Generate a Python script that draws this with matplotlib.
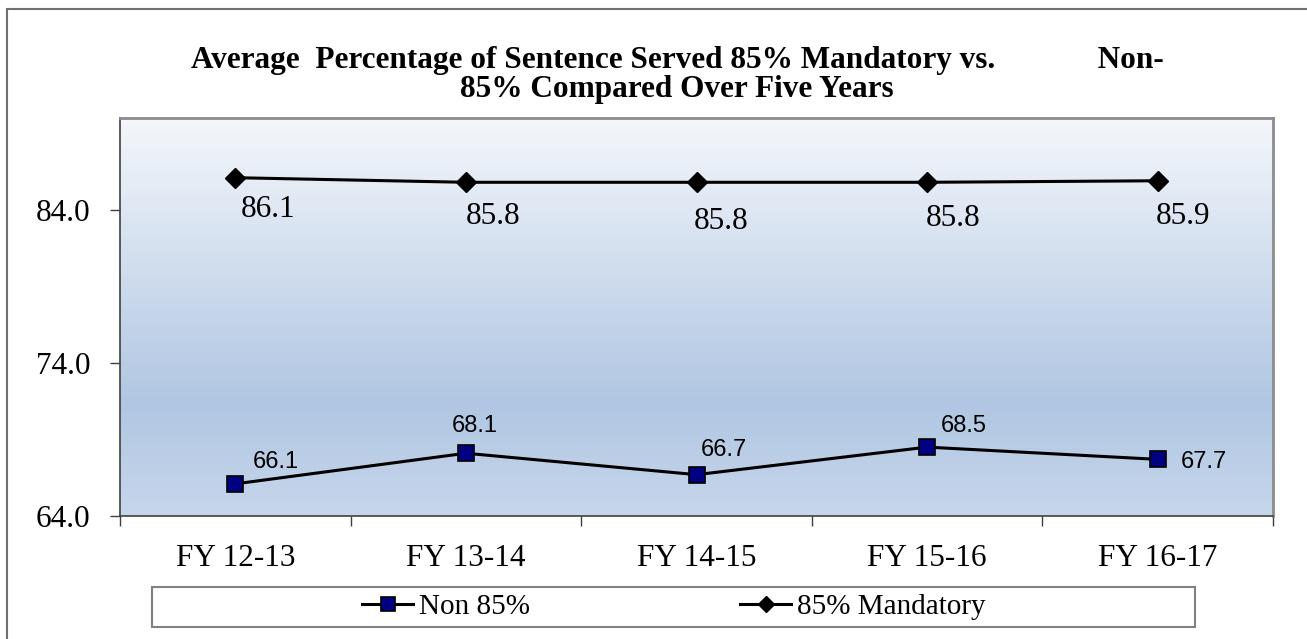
import numpy as np
import matplotlib
matplotlib.use("Agg")
import matplotlib.pyplot as plt
from matplotlib.colors import LinearSegmentedColormap
from matplotlib.patches import Rectangle

# data
years = ['FY 12-13', 'FY 13-14', 'FY 14-15', 'FY 15-16', 'FY 16-17']
non85 = [66.1, 68.1, 66.7, 68.5, 67.7]
mand85 = [86.1, 85.8, 85.8, 85.8, 85.9]
yticks = [64.0, 74.0, 84.0]

# label offsets in pixels (dx, dy) relative to marker, dy positive = up
mand_off = [(5, -39), (0, -42), (-3, -47), (-1, -44), (-2, -43)]
non_off = [(17, 16), (-14, 21), (4, 19), (14, 15), (23, -9)]

W, H = 1307, 639
serif = 'Liberation Serif'
sans = 'Liberation Sans'
fs = 22.5

fig = plt.figure(figsize=(W / 100, H / 100), dpi=100)
ax = fig.add_axes([120 / W, 1 - 516 / H, (1273 - 120) / W, (516 - 118) / H])

x = np.arange(len(years))

# background gradient of the plot area
cmap = LinearSegmentedColormap.from_list('bg', [(0.0, '#F4F7FB'), (0.72, '#B0C6E2'), (1.0, '#C7D7EB')])
grad = np.linspace(0, 1, 256).reshape(-1, 1)
ax.imshow(grad, cmap=cmap, aspect='auto', extent=[-0.5, 4.5, 64, 90], zorder=0, interpolation='bilinear')

ax.plot(x, mand85, color='black', lw=2.2, marker='D', ms=10, mfc='black', mec='black', zorder=3, label='85% Mandatory')
ax.plot(x, non85, color='black', lw=2.2, marker='s', ms=12, mfc='#000080', mec='black', mew=1.2, zorder=3, label='Non 85%')

for i, v in enumerate(mand85):
    dx, dy = mand_off[i]
    ax.annotate('{:.1f}'.format(v), (x[i], v), xytext=(dx * 0.72, dy * 0.72), textcoords='offset points',
                ha='left', va='baseline', fontsize=fs, family=serif, color='black', zorder=4)
for i, v in enumerate(non85):
    dx, dy = non_off[i]
    ax.annotate('{:.1f}'.format(v), (x[i], v), xytext=(dx * 0.72, dy * 0.72), textcoords='offset points',
                ha='left', va='baseline', fontsize=17, family=sans, color='black', zorder=4)

ax.set_xlim(-0.5, 4.5)
ax.set_ylim(64, 90)
ax.set_yticks(yticks)
ax.set_yticklabels(['{:.1f}'.format(t) for t in yticks], fontsize=fs, family=serif)
ax.set_xticks(x)
ax.set_xticklabels(years, fontsize=fs, family=serif)
ax.set_xticks(np.arange(-0.5, 5, 1.0), minor=True)
ax.tick_params(axis='x', which='major', length=0, pad=20)
ax.tick_params(axis='x', which='minor', length=7.2, width=1, color='#404040', direction='out')
ax.tick_params(axis='y', length=7.2, width=1, color='#404040', direction='out', pad=14)

for s in ['top', 'right']:
    ax.spines[s].set_color('#8C8C8C')
    ax.spines[s].set_linewidth(2)
for s in ['left', 'bottom']:
    ax.spines[s].set_color('#404040')
    ax.spines[s].set_linewidth(1.2)

# title (baseline of the last line)
fig.text(677 / W, 1 - 97 / H,
         'Average  Percentage of Sentence Served 85% Mandatory vs.             Non-\n85% Compared Over Five Years',
         ha='center', va='baseline', fontsize=fs, family=serif, fontweight='bold', linespacing=1.0)

# outer chart frame
fig.patches.append(Rectangle((7 / W, -0.05), 1.2, 1 - 9 / H + 0.05, transform=fig.transFigure,
                             fill=False, edgecolor='#707070', lw=1.5))

# legend box
fig.patches.append(Rectangle((152 / W, 1 - 627 / H), (1195 - 152) / W, 40 / H, transform=fig.transFigure,
                             facecolor='white', edgecolor='#808080', lw=1.5, zorder=1))
h, l = ax.get_legend_handles_labels()
leg = fig.legend([h[1], h[0]], [l[1], l[0]], loc='center', bbox_to_anchor=(674 / W, 1 - 607 / H), ncol=2,
                 frameon=False, prop={'family': serif, 'size': 21}, handlelength=1.75, handletextpad=0.2,
                 columnspacing=7.2, borderpad=0, markerscale=0.85)

fig.savefig('out.png', dpi=100)
